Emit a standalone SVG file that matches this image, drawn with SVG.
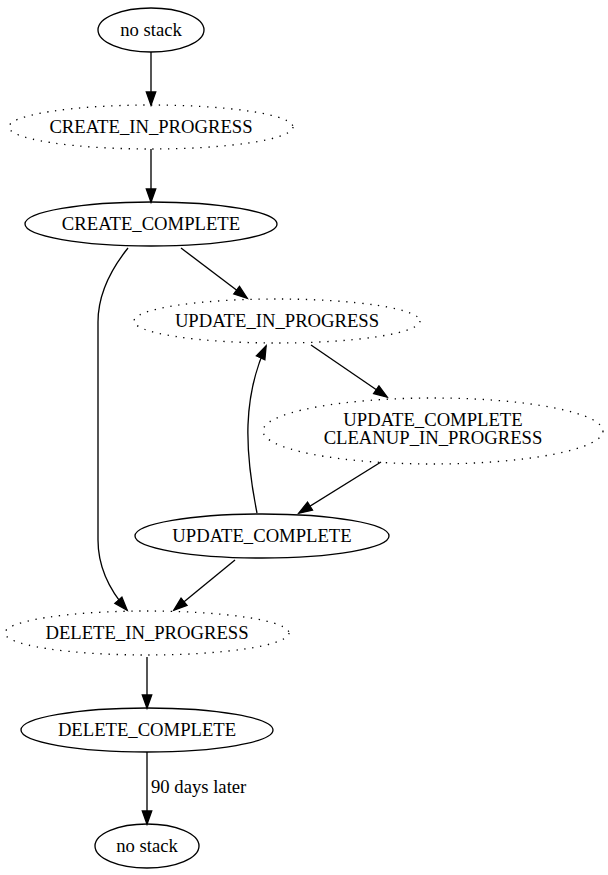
<svg xmlns="http://www.w3.org/2000/svg" width="608" height="875" viewBox="0 0 608 875">
<style>
.n ellipse{fill:none;stroke:#000;stroke-width:1.33}
.d ellipse{stroke-dasharray:1.33,6.67}
text{font-family:"Liberation Serif","Times New Roman",serif;font-size:18.67px;fill:#000}
.n text{text-anchor:middle}
.e path{fill:none;stroke:#000;stroke-width:1.33;marker-end:url(#a)}
</style>
<defs>
<marker id="a" markerUnits="userSpaceOnUse" markerWidth="18" markerHeight="14" refX="14" refY="6" orient="auto" viewBox="0 0 18 12">
<path d="M1,1.3 L14.3,6 L1,10.7 Z" fill="#000" stroke="#000" stroke-width="1.33"/>
</marker>
</defs>
<rect width="608" height="875" fill="#fff"/>
<g id="edges" class="e">
<path d="M151,52 L151,105"/>
<path d="M151,149 L151,202"/>
<path d="M181,248 L247,298"/>
<path d="M128,248 C112,268 98,292 98,322 L98,540 C98,570 112,593 127,610"/>
<path d="M311,345 L387,397"/>
<path d="M381,462 L299,513"/>
<path d="M257,513 C252,488 247,455 248,425 C249,395 255,370 266,346"/>
<path d="M235,560 L174,610"/>
<path d="M147,657 L147,708"/>
<path d="M147,752 L147,824"/>
<text x="151" y="793">90 days later</text>
</g>
<g id="nostack_top" class="n"><ellipse cx="151" cy="30" rx="53" ry="22"/><text x="151" y="36">no stack</text></g>
<g id="create_in_progress" class="n d"><ellipse cx="151" cy="127" rx="142" ry="22"/><text x="151" y="133">CREATE_IN_PROGRESS</text></g>
<g id="create_complete" class="n"><ellipse cx="151" cy="224" rx="126" ry="22"/><text x="151" y="230">CREATE_COMPLETE</text></g>
<g id="update_in_progress" class="n d"><ellipse cx="277" cy="321" rx="143" ry="22"/><text x="277" y="327">UPDATE_IN_PROGRESS</text></g>
<g id="update_complete_cleanup" class="n d"><ellipse cx="433" cy="431" rx="170" ry="33"/><text x="433" y="426">UPDATE_COMPLETE</text><text x="433" y="444">CLEANUP_IN_PROGRESS</text></g>
<g id="update_complete" class="n"><ellipse cx="262" cy="536" rx="127" ry="22"/><text x="262" y="542">UPDATE_COMPLETE</text></g>
<g id="delete_in_progress" class="n d"><ellipse cx="147" cy="633" rx="142" ry="22"/><text x="147" y="639">DELETE_IN_PROGRESS</text></g>
<g id="delete_complete" class="n"><ellipse cx="147" cy="730" rx="126" ry="22"/><text x="147" y="736">DELETE_COMPLETE</text></g>
<g id="nostack_bottom" class="n"><ellipse cx="147" cy="846" rx="52" ry="22"/><text x="147" y="852">no stack</text></g>
</svg>
